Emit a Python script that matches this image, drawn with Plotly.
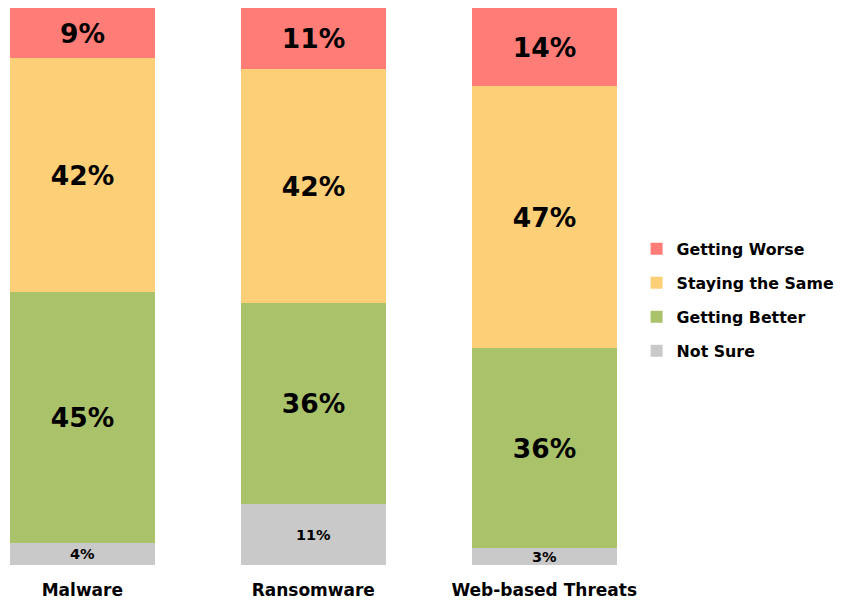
import plotly.graph_objects as go

categories = ["Malware", "Ransomware", "Web-based Threats"]
not_sure = [4, 11, 3]
getting_better = [45, 36, 36]
staying_same = [42, 42, 47]
getting_worse = [9, 11, 14]

FONT = "DejaVu Sans"

series = [
    ("Not Sure", not_sure, "#C9C9C9", 14.5, 4),
    ("Getting Better", getting_better, "#AAC26A", 26.5, 3),
    ("Staying the Same", staying_same, "#FDCF76", 26.5, 2),
    ("Getting Worse", getting_worse, "#FF7C77", 26.5, 1),
]

fig = go.Figure()
for name, vals, color, fsize, rank in series:
    fig.add_trace(go.Bar(
        x=categories, y=vals, name=name,
        marker=dict(color=color, line=dict(width=0)),
        width=0.626,
        text=[f"{v}%" for v in vals],
        texttemplate="%{text}",
        textposition="inside",
        insidetextanchor="middle",
        textangle=0,
        constraintext="none",
        textfont=dict(family=FONT, size=fsize, color="black", weight="bold"),
        legendgroup=name,
        legendrank=rank,
        hoverinfo="skip",
    ))

fig.update_layout(
    width=836, height=593,
    barmode="stack",
    bargap=0,
    plot_bgcolor="white", paper_bgcolor="white",
    margin=dict(l=0, r=208, t=0, b=36),
    font=dict(family=FONT, color="black"),
    showlegend=True,
    legend=dict(
        traceorder="grouped",
        tracegroupgap=10.5,
        xref="container", x=0.7519, xanchor="left",
        yref="paper", y=0.476, yanchor="middle",
        font=dict(family=FONT, size=15.8, color="black", weight="bold"),
        bgcolor="rgba(0,0,0,0)",
    ),
    xaxis=dict(
        range=[-0.3218, 2.3841],
        showgrid=False, zeroline=False, showline=False,
        ticks="", ticklabelstandoff=13,
        tickfont=dict(family=FONT, size=17, color="black", weight="bold"),
    ),
    yaxis=dict(
        range=[0, 100], visible=False, showgrid=False, zeroline=False,
    ),
)

fig.write_html("out.html")
